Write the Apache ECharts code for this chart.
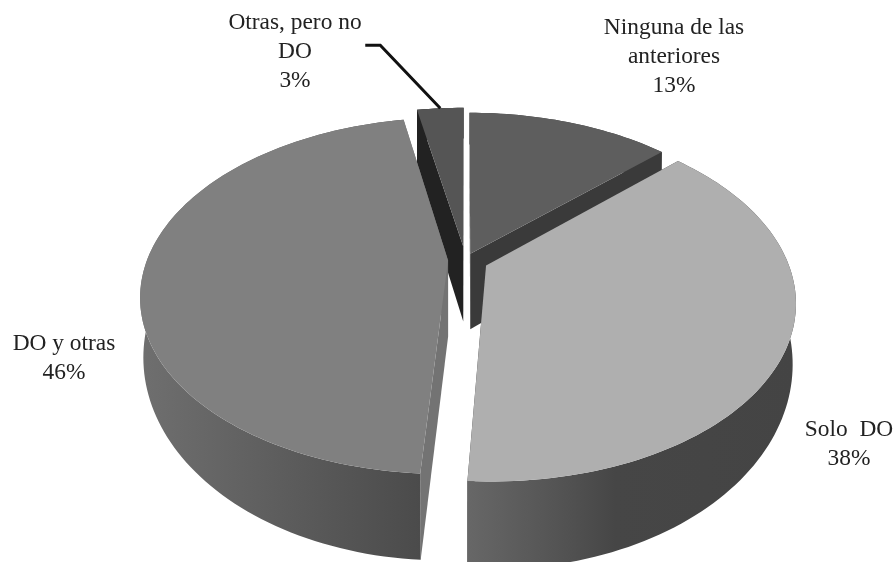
<!DOCTYPE html>
<html lang="es" style="height: 100%">

<head>
  <meta charset="utf-8">
</head>

<body style="height: 100%; margin: 0; background: #fff">
  <div id="container" style="height: 100%"></div>

  <script type="text/javascript" src="https://cdn.jsdelivr.net/npm/echarts@6/dist/echarts.min.js"></script>

  <script type="text/javascript">
    // data, clockwise from 12 o'clock
    var categories = ['Ninguna de las\nanteriores', 'Solo  DO', 'DO y otras', 'Otras, pero no\nDO'];
    var percents = [13, 38, 46, 3];

    // look of each slice, same order as the data
    var topColors = ['#5e5e5e', '#afafaf', '#808080', '#555555'];
    var cutColors = ['#3a3a3a', '#3a3a3a', '#737373', '#222222'];
    var wallStops = [
      [[0, '#3a3a3a'], [1, '#3a3a3a']],
      [[0, '#676767'], [0.3, '#525252'], [0.45, '#464646'], [1, '#444444']],
      [[0, '#6f6f6f'], [1, '#4b4b4b']],
      [[0, '#222222'], [1, '#222222']]
    ];
    var paintOrder = [1, 3, 2, 0];
    var labelAt = [[674, 57], [849, 444], [64, 358], [295, 52]];
    var explode = [0.04, 0.075, 0.058, 0.08];

    // perspective of the disc on the page
    var cx = 465.5, cy = 260, radiusX = 301, radiusY = 171;
    var tilt = 0.197;
    var thickness = 54, coreThickness = 76, bottomScaleX = 0.99, bottomScaleY = 1.09;

    function project(u, v, bottom) {
      var w = 1 + tilt * v;
      return [
        cx + radiusX * u / w * (bottom ? bottomScaleX : 1),
        cy - radiusY * v / w * (bottom ? bottomScaleY : 1) + (bottom ? thickness / w : 0)
      ];
    }

    var total = percents.reduce(function (a, b) { return a + b; }, 0);

    function renderSlice(params, api) {
      var i = params.dataIndex;
      var start = 0;
      for (var n = 0; n < i; n++) start += percents[n];
      start = start / total * Math.PI * 2;
      var end = start + api.value(0) / total * Math.PI * 2;
      var mid = (start + end) / 2;
      var ou = explode[i] * Math.sin(mid), ov = explode[i] * Math.cos(mid);

      function rim(a, bottom) {
        return project(ou + Math.sin(a), ov + Math.cos(a), bottom);
      }
      var apex = project(ou, ov, false);
      var apexLow = [apex[0], apex[1] + coreThickness / (1 + tilt * ov)];

      // lower corner of a cut face: back edges hang straight down
      function cutLow(a) {
        if (Math.cos(a) < 0) return rim(a, true);
        var p = rim(a, false);
        return [p[0], p[1] + coreThickness / (1 + tilt * Math.cos(a))];
      }

      var arcTop = [], arcLow = [];
      var steps = Math.max(6, Math.ceil((end - start) * 40));
      for (var s = 0; s <= steps; s++) {
        var a = start + (end - start) * s / steps;
        arcTop.push(rim(a, false));
        arcLow.push(rim(a, true));
      }

      var z = paintOrder[i] * 10;
      var children = [];
      function poly(points, fill, z2) {
        children.push({
          type: 'polygon',
          z2: z + z2,
          shape: { points: points },
          style: { fill: fill, stroke: null }
        });
      }

      // two cut faces, then outer wall, then the top
      poly([apex, arcTop[0], cutLow(start), apexLow], cutColors[i], 0);
      poly([apex, arcTop[steps], cutLow(end), apexLow], cutColors[i], 1);
      poly(arcTop.concat(arcLow.slice().reverse()), new echarts.graphic.LinearGradient(0, 0, 1, 0,
        wallStops[i].map(function (st) { return { offset: st[0], color: st[1] }; })), 2);
      poly([apex].concat(arcTop), topColors[i], 3);

      children.push({
        type: 'text',
        z2: 100,
        style: {
          x: labelAt[i][0],
          y: labelAt[i][1],
          text: categories[i] + '\n' + api.value(0) + '%',
          fontFamily: '"Liberation Serif", serif',
          fontSize: 23.4,
          lineHeight: 29,
          align: 'center',
          verticalAlign: 'middle',
          fill: '#222222'
        }
      });

      // leader line only for the small slice
      if (api.value(0) < 5) {
        var tip = rim(mid, false);
        children.push({
          type: 'polyline',
          z2: z + 4,
          shape: { points: [[tip[0] - 75, tip[1] - 63], [tip[0] - 60, tip[1] - 63], tip] },
          style: { stroke: '#111111', lineWidth: 3, fill: null }
        });
      }
      return { type: 'group', children: children };
    }

    var myChart = echarts.init(document.getElementById('container'), null, { renderer: 'canvas' });
    myChart.setOption({
      animation: false,
      backgroundColor: '#ffffff',
      series: [{
        type: 'custom',
        coordinateSystem: 'none',
        renderItem: renderSlice,
        data: percents.map(function (p, i) { return [p, i]; })
      }]
    });
    window.addEventListener('resize', myChart.resize);
  </script>
</body>

</html>
